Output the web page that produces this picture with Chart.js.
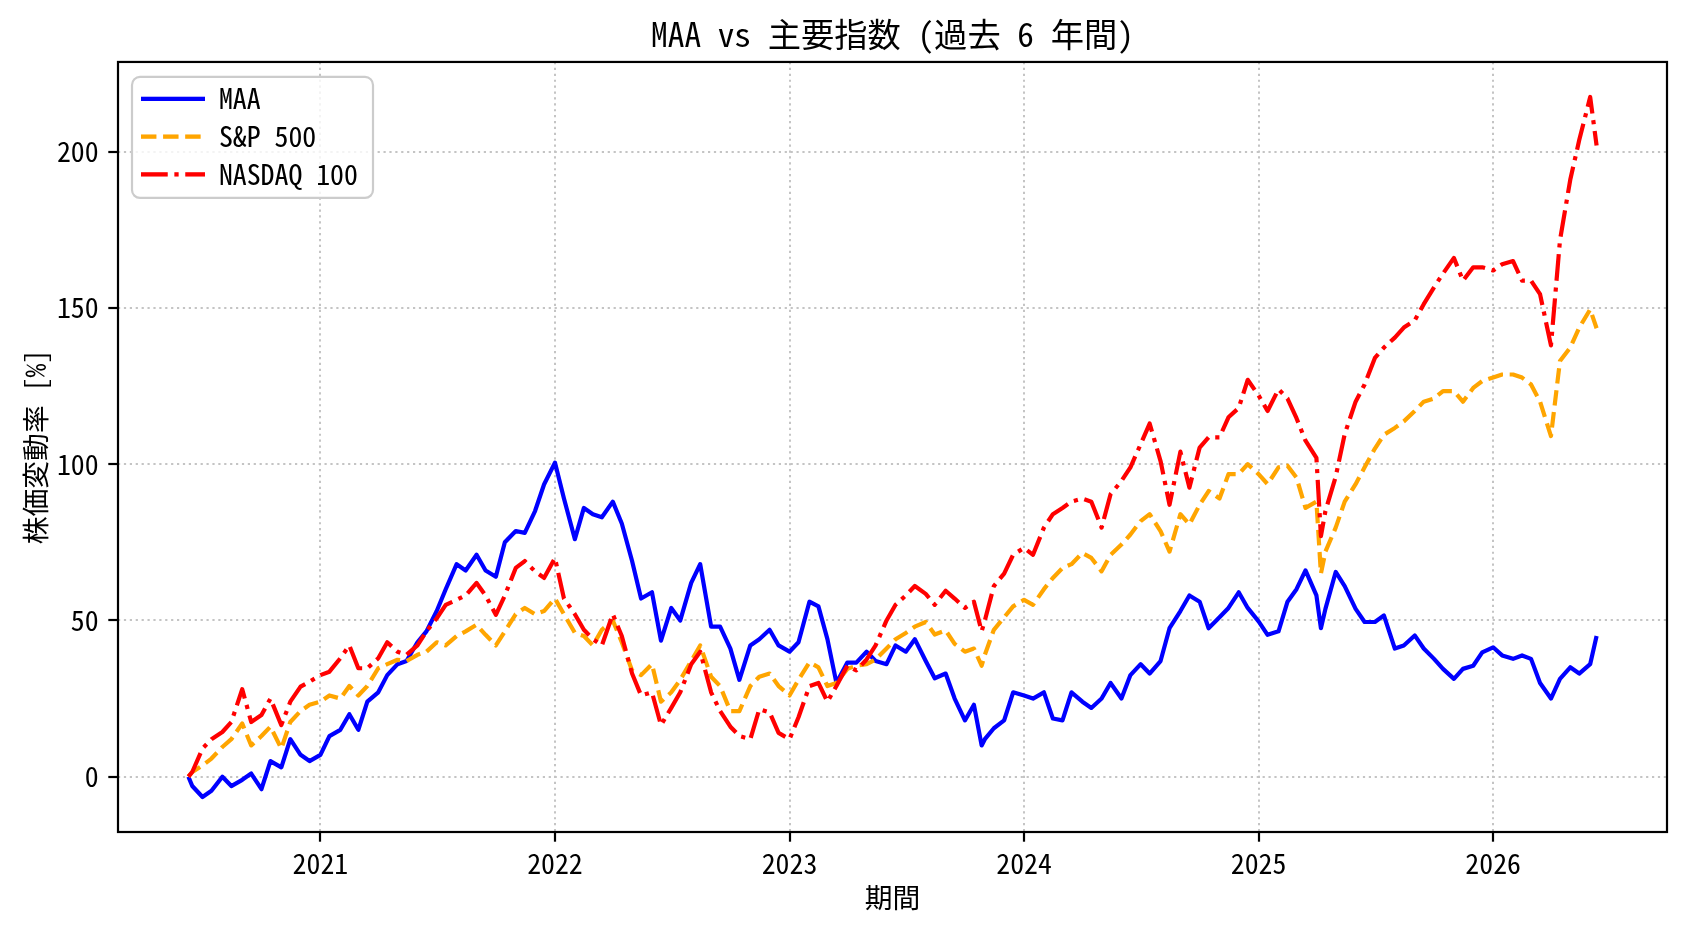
<!DOCTYPE html>
<html>
<head>
<meta charset="utf-8">
<title>MAA vs 主要指数</title>
<script src="https://cdn.jsdelivr.net/npm/chart.js"></script>
<style>
  body { margin: 0; background: #fff; }
</style>
</head>
<body>
<canvas id="chart" width="1688" height="932"></canvas>
<script>
// half-monthly samples (% change since start)
const dates = [
  '2020-06-09','2020-06-15','2020-07-01','2020-07-15','2020-08-01','2020-08-15','2020-09-01','2020-09-15','2020-10-01','2020-10-15','2020-11-01','2020-11-15','2020-12-01','2020-12-15',
  '2021-01-01','2021-01-15','2021-02-01','2021-02-15','2021-03-01','2021-03-15','2021-04-01','2021-04-15','2021-05-01','2021-05-15','2021-06-01','2021-06-15','2021-07-01','2021-07-15','2021-08-01','2021-08-15','2021-09-01','2021-09-15','2021-10-01','2021-10-15','2021-11-01','2021-11-15','2021-12-01','2021-12-15',
  '2022-01-01','2022-01-15','2022-02-01','2022-02-15','2022-03-01','2022-03-15','2022-04-01','2022-04-15','2022-05-01','2022-05-15','2022-06-01','2022-06-15','2022-07-01','2022-07-15','2022-08-01','2022-08-15','2022-09-01','2022-09-15','2022-10-01','2022-10-15','2022-11-01','2022-11-15','2022-12-01','2022-12-15',
  '2023-01-01','2023-01-15','2023-02-01','2023-02-15','2023-03-01','2023-03-15','2023-04-01','2023-04-15','2023-05-01','2023-05-15','2023-06-01','2023-06-15','2023-07-01','2023-07-15','2023-08-01','2023-08-15','2023-09-01','2023-09-15','2023-10-01','2023-10-15','2023-10-27','2023-11-01','2023-11-15','2023-12-01','2023-12-15',
  '2024-01-01','2024-01-15','2024-02-01','2024-02-15','2024-03-01','2024-03-15','2024-04-01','2024-04-15','2024-05-01','2024-05-15','2024-06-01','2024-06-15','2024-07-01','2024-07-15','2024-08-01','2024-08-15','2024-09-01','2024-09-15','2024-10-01','2024-10-15','2024-11-01','2024-11-15','2024-12-01','2024-12-15',
  '2025-01-01','2025-01-15','2025-02-01','2025-02-15','2025-03-01','2025-03-15','2025-04-01','2025-04-08','2025-04-15','2025-05-01','2025-05-15','2025-06-01','2025-06-15','2025-07-01','2025-07-15','2025-08-01','2025-08-15','2025-09-01','2025-09-15','2025-10-01','2025-10-15','2025-11-01','2025-11-15','2025-12-01','2025-12-15',
  '2026-01-01','2026-01-15','2026-02-01','2026-02-15','2026-03-01','2026-03-15','2026-04-01','2026-04-15','2026-05-01','2026-05-15','2026-06-01','2026-06-11'
];

const maa = [
  0, -3, -6.5, -4.5, 0, -3, -1, 1, -4, 5, 3, 12, 7, 5,
  7, 13, 15, 20, 15, 24, 27, 32.5, 36, 37, 43, 46.5, 53, 60, 68, 66, 71, 66, 64, 75, 78.6, 78, 85, 93.5,
  100.5, 89, 76, 86, 84, 83, 88, 81, 69, 57, 59, 43.5, 54, 50, 62, 68, 48, 48, 41, 31, 42, 44, 47, 42,
  40, 43, 56, 54.5, 44, 30, 36.5, 36.5, 40, 37, 36, 42, 40, 44, 37, 31.5, 33, 25, 18, 23, 10, 12, 15.5, 18, 27,
  26, 25, 27, 18.6, 18, 27, 24, 22, 25, 30, 25, 32.5, 36, 33, 37, 47.5, 53, 58, 56, 47.5, 51, 54, 59, 54,
  49.7, 45.4, 46.5, 56, 60, 66, 58, 47.5, 53.7, 65.5, 61, 53.7, 49.5, 49.5, 51.6, 41, 42, 45.2, 41, 37.7, 34.5, 31.3, 34.5, 35.5, 39.8,
  41.4, 38.8, 37.7, 38.8, 37.7, 30, 25, 31.3, 35, 33, 36, 45
];

const sp500 = [
  0, 1.5, 3.6, 5.8, 9.5, 12, 17, 10, 13, 16, 9, 17.5, 21, 23,
  24, 26, 25, 29, 26, 29, 34.7, 36, 37.4, 37, 39, 40, 43, 42, 45, 46.5, 48.6, 45.4, 42, 46.5, 52, 54, 52, 53,
  57, 52, 46, 45, 42, 47, 50, 43, 34, 32.5, 36, 24, 27, 31, 37, 42, 32, 29, 21, 21, 29, 32, 33, 29,
  26, 31, 36.6, 35, 29, 30, 34.5, 35.5, 36, 37.5, 41, 44, 46, 48, 49.5, 45.5, 46.8, 42.5, 40, 41, 35.5, 39, 47, 51, 54.5,
  56.6, 55, 60, 63.6, 66.8, 68, 71.6, 70, 65.7, 71, 74.3, 77.5, 81.8, 84, 78.6, 72, 84, 80.7, 87, 91.4, 89, 96.8, 96.8, 100,
  96.8, 93.6, 99, 99.5, 95.7, 86, 88, 65, 72, 79.7, 88, 93.6, 99, 105, 109.4, 111.6, 113.7, 117, 120, 121, 123.4, 123.4, 120, 124.4, 126.6,
  127.7, 128.7, 128.7, 127.7, 125.5, 120, 109, 133, 137.3, 143.7, 149.5, 143.5
];

const nasdaq100 = [
  0, 1.5, 9, 12, 14.3, 17.5, 28, 17.5, 19.7, 25, 16.5, 24, 28.8, 30.4,
  32.5, 33.6, 37.9, 42, 34.7, 34.7, 37.9, 43, 40, 39, 42, 46.5, 50.7, 55, 56.6, 58, 62, 58, 51.8, 58, 66.8, 69, 65.7, 63.6,
  70, 57, 52, 47, 44, 42, 52, 45, 33, 26, 27, 16.5, 22, 27, 36, 40, 27, 21, 16, 13, 12, 21.6, 20.6, 14,
  12, 19, 29, 30, 24, 29, 35.5, 34, 37.5, 42, 50, 55, 58, 61, 58.5, 55, 59.5, 57, 54, 56, 46.5, 50, 61, 65, 71,
  73.2, 71, 79.7, 84, 86, 88, 89, 88, 79.7, 90.4, 94.6, 99, 106.4, 113, 101, 87, 104, 92.5, 105.3, 108.6, 108.6, 115, 118, 127,
  122, 117, 124, 121, 114.7, 107.5, 102, 77, 85, 96, 109.6, 120, 125.5, 134, 137.3, 140.5, 143.7, 146, 151.2, 156.6, 161, 166, 158.7, 163, 163,
  162, 164, 165, 158.7, 158.7, 154.4, 138, 171.6, 191, 203.7, 217.5, 202
];

const xTicks = [2021, 2022, 2023, 2024, 2025, 2026];
const yTicks = [0, 50, 100, 150, 200];

// ---- helpers ----
const FONT = '"Noto Sans Mono CJK JP", "Noto Sans CJK JP", sans-serif';

function toYear(s) {
  const [y, m, d] = s.split('-').map(Number);
  const start = Date.UTC(y, 0, 1);
  return y + (Date.UTC(y, m - 1, d) - start) / (Date.UTC(y + 1, 0, 1) - start);
}
const xs = dates.map(toYear);
const pts = vals => vals.map((v, i) => ({ x: xs[i], y: v }));

// matplotlib-like 5% autoscale margins
const xPad = (xs[xs.length - 1] - xs[0]) * 0.05;
const allVals = maa.concat(sp500, nasdaq100);
const yLo = Math.min(...allVals), yHi = Math.max(...allVals);
const yPad = (yHi - yLo) * 0.05;

const gridColor = '#c4c4c4';

// spines on all sides + framed legend inside the plot
const frameAndLegend = {
  id: 'frameAndLegend',
  afterLayout(chart) {
    const a = chart.chartArea, lg = chart.legend;
    lg.left = a.left + 13;
    lg.top = a.top + 13;
    lg.right = lg.left + lg.width;
    lg.bottom = a.bottom;
  },
  afterDatasetsDraw(chart) {
    const { ctx, chartArea: a, legend: lg } = chart;
    ctx.save();
    ctx.strokeStyle = '#000';
    ctx.lineWidth = 2.2;
    ctx.strokeRect(a.left, a.top, a.right - a.left, a.bottom - a.top);
    ctx.beginPath();
    ctx.roundRect(lg.left + 1, lg.top + 2, 241, 121, 8);
    ctx.fillStyle = 'rgba(255,255,255,0.8)';
    ctx.fill();
    ctx.strokeStyle = '#cccccc';
    ctx.lineWidth = 2.2;
    ctx.stroke();
    ctx.restore();
    lg.draw();
  }
};

const lineBase = {
  borderWidth: 4.2,
  pointRadius: 0,
  tension: 0,
  borderJoinStyle: 'round',
  borderCapStyle: 'butt',
  fill: false
};

new Chart(document.getElementById('chart'), {
  type: 'line',
  data: {
    datasets: [
      { ...lineBase, label: 'MAA', data: pts(maa), borderColor: '#0000ff', order: 3 },
      { ...lineBase, label: 'S&P 500', data: pts(sp500), borderColor: '#ffa500', borderDash: [15.4, 6.7], order: 2 },
      { ...lineBase, label: 'NASDAQ 100', data: pts(nasdaq100), borderColor: '#ff0000', borderDash: [26.7, 6.7, 4.2, 6.7], order: 1 }
    ]
  },
  options: {
    responsive: false,
    animation: false,
    devicePixelRatio: 1,
    events: [],
    layout: { padding: { right: 21 } },
    scales: {
      x: {
        type: 'linear',
        min: xs[0] - xPad,
        max: xs[xs.length - 1] + xPad,
        afterBuildTicks: s => { s.ticks = xTicks.map(v => ({ value: v })); },
        afterFit: s => { s.height = 100; },
        ticks: {
          callback: v => String(v),
          font: { family: FONT, size: 27.8 },
          color: '#000',
          padding: 5,
          maxRotation: 0
        },
        grid: { color: gridColor, lineWidth: 2, tickLength: 9.7, tickColor: '#000', tickWidth: 2.2 },
        border: { display: false, dash: [2.2, 3.7] },
        title: {
          display: true, text: '期間', color: '#000',
          font: { family: FONT, size: 27.8 },
          padding: { top: 0, bottom: 18 }
        }
      },
      y: {
        type: 'linear',
        min: yLo - yPad,
        max: yHi + yPad,
        afterBuildTicks: s => { s.ticks = yTicks.map(v => ({ value: v })); },
        afterFit: s => { s.width = 118; },
        ticks: {
          font: { family: FONT, size: 27.8 },
          color: '#000',
          padding: 9.7
        },
        grid: { color: gridColor, lineWidth: 2, tickLength: 9.7, tickColor: '#000', tickWidth: 2.2 },
        border: { display: false, dash: [2.2, 3.7] },
        title: {
          display: true, text: '株価変動率 [%]', color: '#000',
          font: { family: FONT, size: 27.8 },
          padding: { top: 19, bottom: 0 }
        }
      }
    },
    plugins: {
      title: {
        display: true,
        fullSize: false,
        text: 'MAA vs 主要指数 (過去 6 年間)',
        color: '#000',
        font: { family: FONT, size: 33.3, weight: 'normal', lineHeight: 1.2 },
        padding: { top: 14.5, bottom: 7.5 }
      },
      legend: {
        position: 'chartArea',
        align: 'start',
        labels: {
          usePointStyle: true,
          pointStyle: 'line',
          pointStyleWidth: 64,
          padding: 10,
          color: '#000',
          font: { family: FONT, size: 27.8 },
          sort: (a, b) => a.datasetIndex - b.datasetIndex,
          // point-style items lose the dataset dash, so copy the line style back
          generateLabels: chart => Chart.defaults.plugins.legend.labels.generateLabels(chart).map(item => {
            const ds = chart.data.datasets[item.datasetIndex];
            return { ...item, lineDash: ds.borderDash || [], lineWidth: ds.borderWidth, strokeStyle: ds.borderColor, lineCap: 'butt' };
          })
        }
      },
      tooltip: { enabled: false }
    }
  },
  plugins: [frameAndLegend]
});
</script>
</body>
</html>
